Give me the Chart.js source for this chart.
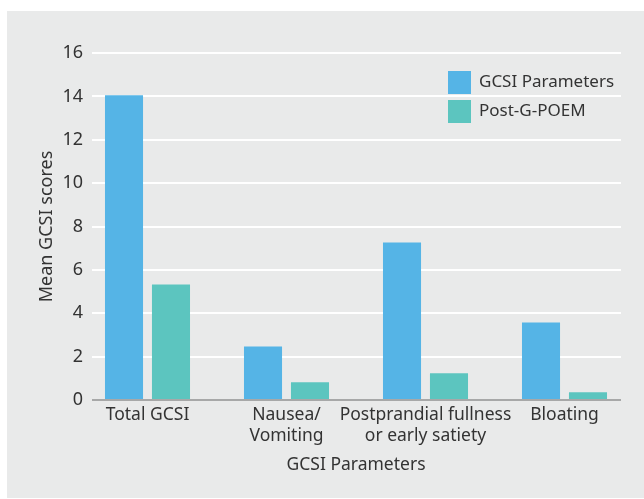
<!DOCTYPE html>
<html>
<head>
<meta charset="utf-8">
<script src="https://cdn.jsdelivr.net/npm/chart.js@4"></script>
<style>
  body { margin: 0; background: #fff; }
  #panel { position: absolute; left: 7px; top: 11px; width: 637px; height: 487px; background: #e9eaea; }
</style>
</head>
<body>
<div id="panel"><canvas id="myChart" width="637" height="487"></canvas></div>
<script>
const categories = ["Total GCSI", ["Nausea/", "Vomiting"], ["Postprandial fullness", "or early satiety"], "Bloating"];
const gcsiValues = [14.05, 2.47, 7.26, 3.57];
const postPoemValues = [5.32, 0.82, 1.23, 0.36];
const yTicks = [0, 2, 4, 6, 8, 10, 12, 14, 16];

const blue = "#55b4e6";
const teal = "#5cc5bf";
const textColor = "#333333";
const fontFamily = "'Noto Sans', sans-serif";

// grid lines are inset from the bar area, y labels hang into it, legend sits inside the plot
const extras = {
  id: "extras",
  beforeDatasetsDraw(chart) {
    const { ctx, chartArea, scales } = chart;
    const x0 = chartArea.left + 14;
    const x1 = chartArea.right - 13;
    ctx.save();
    ctx.strokeStyle = "#ffffff";
    ctx.lineWidth = 2;
    yTicks.forEach((v) => {
      if (v === 0) return;
      const y = Math.round(scales.y.getPixelForValue(v));
      ctx.beginPath();
      ctx.moveTo(x0, y);
      ctx.lineTo(x1, y);
      ctx.stroke();
    });
    ctx.fillStyle = textColor;
    ctx.font = "18px " + fontFamily;
    ctx.textAlign = "right";
    ctx.textBaseline = "middle";
    yTicks.forEach((v) => {
      ctx.fillText(String(v), chartArea.left + 5, scales.y.getPixelForValue(v));
    });
    ctx.restore();
  },
  afterDatasetsDraw(chart) {
    const { ctx, chartArea, scales } = chart;
    const y = Math.round(scales.y.getPixelForValue(0));
    ctx.save();
    ctx.strokeStyle = "#a7a8a8";
    ctx.lineWidth = 2;
    ctx.beginPath();
    ctx.moveTo(chartArea.left + 14, y);
    ctx.lineTo(chartArea.right - 13, y);
    ctx.stroke();
    ctx.restore();
  },
  afterDraw(chart) {
    const ctx = chart.ctx;
    ctx.save();
    ctx.font = "17px " + fontFamily;
    ctx.textBaseline = "middle";
    chart.data.datasets.forEach((ds, i) => {
      const top = 60 + i * 29;
      ctx.fillStyle = ds.backgroundColor;
      ctx.fillRect(441, top, 23, 23);
      ctx.fillStyle = textColor;
      ctx.fillText(ds.label, 472, top + 11.5);
    });
    ctx.restore();
  }
};

const ctx = document.getElementById("myChart").getContext("2d");
const chart = new Chart(ctx, {
  type: "bar",
  data: {
    labels: categories,
    datasets: [
      {
        label: "GCSI Parameters",
        data: gcsiValues,
        backgroundColor: blue,
        barPercentage: 0.81,
        categoryPercentage: 0.676,
      },
      {
        label: "Post-G-POEM",
        data: postPoemValues,
        backgroundColor: teal,
        barPercentage: 0.81,
        categoryPercentage: 0.676,
      },
    ],
  },
  options: {
    responsive: false,
    animation: false,
    layout: { padding: { left: 29, right: 10, top: 42, bottom: 0 } },
    plugins: {
      legend: { display: false },
      tooltip: { enabled: false },
    },
    scales: {
      x: {
        grid: { display: false, drawTicks: false },
        border: { display: false },
        ticks: {
          color: textColor,
          font: { family: fontFamily, size: 17.5, lineHeight: 1.2 },
          padding: 5,
          maxRotation: 0,
          autoSkip: false,
        },
        title: {
          display: true,
          text: "GCSI Parameters",
          color: textColor,
          font: { family: fontFamily, size: 17.5, lineHeight: 1.2 },
          padding: { top: 0, bottom: 22 },
        },
        afterFit(scale) { scale.height = 98; },
      },
      y: {
        min: 0,
        max: 16,
        grid: { display: false, drawTicks: false },
        border: { display: false },
        ticks: { stepSize: 2, display: false },
        title: {
          display: true,
          text: "Mean GCSI scores",
          color: textColor,
          font: { family: fontFamily, size: 18, lineHeight: 1.2 },
          padding: 0,
        },
        afterFit(scale) { scale.width = 42; },
      },
    },
  },
  plugins: [extras],
});
</script>
</body>
</html>
